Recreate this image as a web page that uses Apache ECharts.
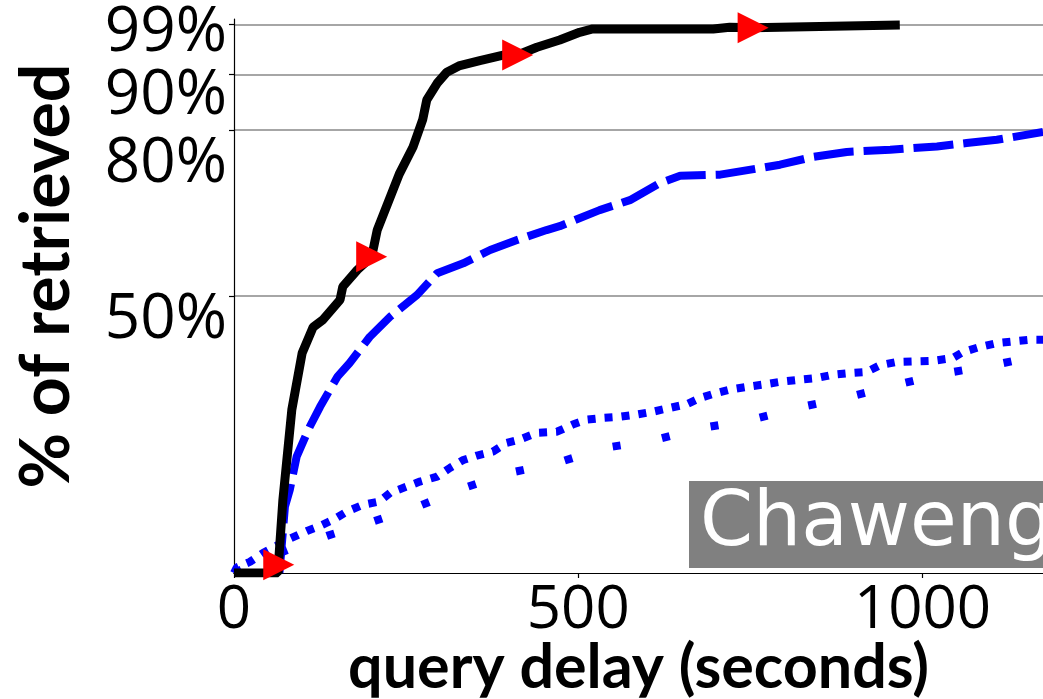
<!DOCTYPE html>
<html>
<head>
<meta charset="utf-8">
<script src="https://cdn.jsdelivr.net/npm/echarts@6/dist/echarts.min.js"></script>
<style>html,body{margin:0;padding:0;background:#fff;}#chart{width:1043px;height:699px;}</style>
</head>
<body>
<div id="chart"></div>
<script>
// ---- data (x = query delay in seconds, y = % of retrieved) ----
const xTickValues = [0, 500, 1000];
const yTickValues = [50, 80, 90, 99];

const blackX = [0, 64, 65, 71, 84, 99, 115, 129, 154, 158, 179, 200, 208, 227, 240, 260, 274, 280, 295, 309, 328, 357, 391, 412, 440, 473, 502, 521, 600, 696, 720, 754, 967];
const blackY = [0, 0, 2.4, 13.2, 29.5, 39.7, 44.4, 45.7, 49.3, 51.7, 54.7, 57.1, 61.9, 67.9, 72.0, 76.9, 81.8, 85.4, 88.4, 90.4, 91.6, 92.5, 93.5, 93.5, 94.9, 96.2, 97.6, 98.2, 98.2, 98.2, 98.5, 98.4, 98.9];

const markerX = [65, 200, 412, 754];
const markerY = [1.5, 57.1, 93.5, 98.4];

const dashX = [66, 70, 74, 81, 91, 110, 125, 150, 168, 197, 227, 266, 295, 333, 372, 411, 454, 473, 531, 575, 619, 648, 706, 764, 793, 841, 890, 953, 1021, 1064, 1108, 1175];
const dashY = [0, 6, 12.0, 15.0, 21.0, 26.4, 30.0, 35.4, 37.9, 42.6, 46.3, 50.2, 54.1, 55.9, 58.3, 60.1, 61.9, 62.6, 65.5, 67.3, 70.4, 71.7, 71.9, 73.1, 73.7, 75.1, 76.0, 76.4, 77.0, 77.6, 78.2, 79.6];

const dotUpX = [0, 4, 23, 42, 81, 106, 125, 144, 164, 187, 211, 227, 251, 270, 295, 314, 333, 353, 376, 396, 415, 440, 469, 492, 513, 536, 560, 585, 608, 633, 658, 677, 701, 720, 745, 768, 793, 822, 847, 870, 894, 919, 938, 963, 1015, 1044, 1059, 1083, 1108, 1156, 1175];
const dotUpY = [0, 1.0, 2.0, 3.6, 6.2, 7.6, 8.5, 9.6, 11.1, 12.3, 12.9, 14.5, 15.6, 16.5, 17.4, 19.0, 20.4, 21.2, 21.9, 23.5, 24.1, 25.3, 25.5, 26.8, 27.7, 28.0, 28.2, 28.6, 29.1, 29.8, 30.5, 31.6, 32.5, 33.1, 33.6, 34.0, 34.5, 34.9, 35.2, 35.8, 36.1, 36.3, 37.5, 38.1, 38.3, 38.8, 39.9, 40.8, 41.5, 42.1, 42.1];

const dotLowX = [0, 40, 80, 135, 202, 267, 335, 401, 470, 539, 611, 681, 752, 825, 894, 963, 1035, 1106, 1175];
const dotLowY = [0, 2.3, 4.3, 6.7, 9.3, 12.0, 15.4, 18.1, 19.9, 22.6, 24.0, 26.2, 27.7, 30.0, 31.8, 34.0, 36.1, 37.6, 39.4];

const xTitle = 'query delay (seconds)';
const yTitle = '% of retrieved';
const boxLabel = 'Chaweng';

function pairs(xs, ys) { return xs.map((x, i) => [x, ys[i]]); }

const chart = echarts.init(document.getElementById('chart'), null, {renderer: 'canvas'});
const tickFont = '"Open Sans"';
const yFs = 62;
const yRich = {
  p99: {fontSize: yFs, fontFamily: tickFont, color: '#000', padding: [17, 0, 0, 0]},
  p90: {fontSize: yFs, fontFamily: tickFont, color: '#000', padding: [44, 0, 0, 0]},
  p80: {fontSize: yFs, fontFamily: tickFont, color: '#000', padding: [70, 0, 0, 0]},
  p50: {fontSize: yFs, fontFamily: tickFont, color: '#000', padding: [48, 0, 0, 0]}
};

chart.setOption({
  animation: false,
  backgroundColor: '#fff',
  title: {
    text: boxLabel,
    left: 689, top: 481,
    backgroundColor: '#808080',
    padding: [4, 30, 3, 11],
    textStyle: {color: '#fff', fontFamily: '"DejaVu Sans"', fontWeight: 'normal', fontSize: 76, lineHeight: 80}
  },
  grid: {left: 234, right: 0, top: 19, bottom: 126, containLabel: false, outerBoundsMode: 'none'},
  xAxis: [{
    type: 'value', min: 0, max: 1175,
    name: xTitle, nameLocation: 'middle', nameGap: 65, nameMoveOverlap: false,
    nameTextStyle: {fontFamily: 'Lato', fontWeight: 'bold', fontSize: 61, color: '#000'},
    axisLine: {show: true, onZero: false, lineStyle: {color: '#000', width: 1.2}},
    axisTick: {show: true, length: 5, inside: false, customValues: xTickValues, lineStyle: {color: '#000', width: 1.2}},
    axisLabel: {customValues: xTickValues, margin: 8, fontFamily: tickFont, fontSize: 60, color: '#000',
                formatter: function (v) { return String(v); }},
    splitLine: {show: false}
  }, {
    type: 'value', min: 0, max: 1175, position: 'top',
    axisLine: {show: true, lineStyle: {color: '#000', width: 1.2}},
    axisTick: {show: false}, axisLabel: {show: false}, splitLine: {show: false}
  }],
  yAxis: {
    type: 'value', min: 0, max: 100,
    name: yTitle, nameLocation: 'middle', nameGap: 153, nameRotate: 90, nameMoveOverlap: false,
    nameTextStyle: {fontFamily: 'Lato', fontWeight: 'bold', fontSize: 68, color: '#000', padding: [0, 0, 0, 40]},
    axisLine: {show: true, lineStyle: {color: '#000', width: 1.2}},
    axisTick: {show: true, length: 5, customValues: yTickValues, lineStyle: {color: '#000', width: 1.2}},
    axisLabel: {
      customValues: yTickValues, margin: 7,
      formatter: function (v) { return '{p' + v + '|' + v + '%}'; },
      rich: yRich, fontFamily: tickFont, fontSize: yFs, color: '#000'
    },
    splitLine: {show: true, lineStyle: {color: '#888', width: 1.5}}
  },
  series: [
    {type: 'line', name: 'lower dotted', data: pairs(dotLowX, dotLowY), showSymbol: false, z: 2,
     lineStyle: {color: '#0000ff', width: 8, type: [8, 42], cap: 'butt'}},
    {type: 'line', name: 'upper dotted', data: pairs(dotUpX, dotUpY), showSymbol: false, z: 2,
     lineStyle: {color: '#0000ff', width: 8, type: [8, 9], cap: 'butt'}},
    {type: 'line', name: 'dashed', data: pairs(dashX, dashY), showSymbol: false, z: 3,
     lineStyle: {color: '#0000ff', width: 8, type: [40, 10], cap: 'butt'}},
    {type: 'line', name: 'solid', data: pairs(blackX, blackY), showSymbol: false, z: 4,
     lineStyle: {color: '#000', width: 9}},
    {type: 'scatter', name: 'markers', data: pairs(markerX, markerY), z: 5,
     symbol: 'triangle', symbolSize: 31, symbolRotate: -90,
     itemStyle: {color: '#ff0000', opacity: 1}}
  ]
});
</script>
</body>
</html>
